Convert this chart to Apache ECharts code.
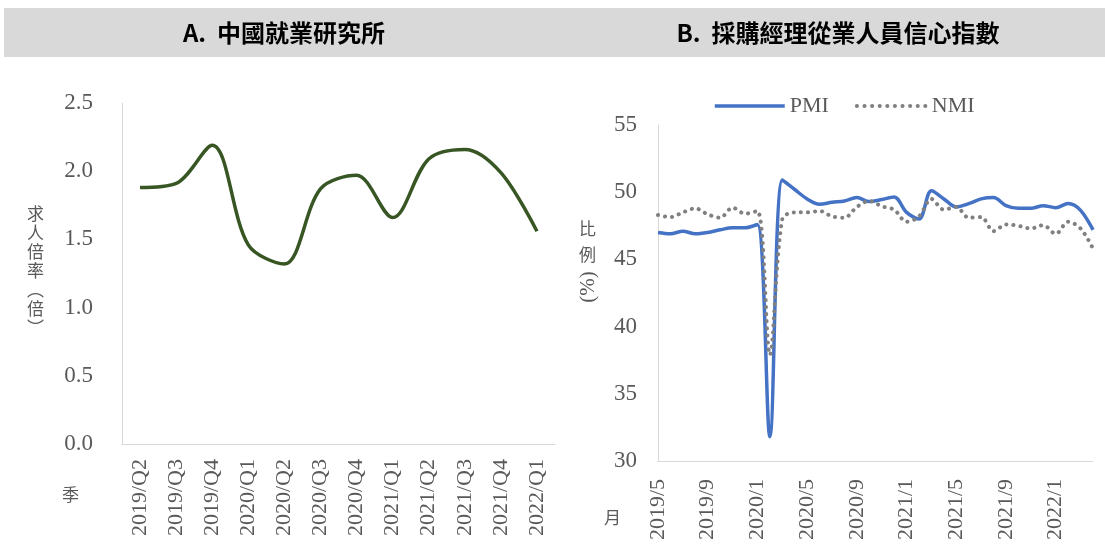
<!DOCTYPE html>
<html><head><meta charset="utf-8">
<script src="https://cdn.jsdelivr.net/npm/echarts@6/dist/echarts.min.js"></script>
<style>html,body{margin:0;padding:0;background:#fff}#c{width:1105px;height:549px}</style>
</head><body><div id="c"></div>
<script>
const quarters = ['2019/Q2','2019/Q3','2019/Q4','2020/Q1','2020/Q2','2020/Q3','2020/Q4','2021/Q1','2021/Q2','2021/Q3','2021/Q4','2022/Q1'];
const jobRatio = [1.88,1.91,2.19,1.46,1.32,1.87,1.97,1.66,2.09,2.16,1.99,1.56];
const months = ['2019/5','2019/6','2019/7','2019/8','2019/9','2019/10','2019/11','2019/12',
 '2020/1','2020/2','2020/3','2020/4','2020/5','2020/6','2020/7','2020/8','2020/9','2020/10','2020/11','2020/12',
 '2021/1','2021/2','2021/3','2021/4','2021/5','2021/6','2021/7','2021/8','2021/9','2021/10','2021/11','2021/12',
 '2022/1','2022/2','2022/3','2022/4'];
const pmi = [47.0,46.9,47.1,46.9,47.0,47.2,47.35,47.35,47.6,31.8,50.9,50.2,49.5,49.1,49.25,49.35,49.6,49.3,49.45,49.65,
 48.5,48.0,50.1,49.5,48.9,49.15,49.5,49.6,49.0,48.8,48.8,49.0,48.85,49.15,48.65,47.2];
const nmi = [48.3,48.15,48.5,48.8,48.35,48.1,48.85,48.4,48.6,37.9,48.0,48.5,48.5,48.6,48.2,48.1,48.9,49.35,48.95,48.7,
 47.8,48.2,49.5,48.7,48.9,48.1,48.15,47.1,47.6,47.5,47.3,47.55,46.9,47.8,47.3,45.8];

const serif = '"Liberation Serif","DejaVu Serif",serif';
const cjk = '"Noto Sans CJK TC","Noto Sans CJK SC",sans-serif';
const txt = '#595959';
const axisLine = {show:true, lineStyle:{color:'#d9d9d9', width:1}};

const chart = echarts.init(document.getElementById('c'), null, {renderer:'canvas'});
function vtext(chars, x, y0, step, size){
  return chars.map((ch,i)=>({type:'text', left:x, top:y0+i*step, style:{text:ch, font:`${size}px ${cjk}`, fill:txt}}));
}
chart.setOption({
  animation:false,
  backgroundColor:'#fff',
  graphic:[
    {type:'rect', shape:{x:4,y:8,width:1101,height:49}, style:{fill:'#d9d9d9'}, z:-1},
    {type:'text', x:284, y:33, style:{text:'A.  中國就業研究所', font:`bold 24px ${cjk}`, fill:'#000', align:'center', verticalAlign:'middle'}},
    {type:'text', x:838, y:33, style:{text:'B.  採購經理從業人員信心指數', font:`bold 24px ${cjk}`, fill:'#000', align:'center', verticalAlign:'middle'}},
    ...vtext(['求','人','倍','率','︵','倍','︶'], 27, 205, 19, 17),
    {type:'text', left:62, top:486, style:{text:'季', font:`17px ${cjk}`, fill:txt}},
    {type:'text', left:604, top:509, style:{text:'月', font:`17px ${cjk}`, fill:txt}},
    {type:'text', left:579, top:220, style:{text:'比', font:`17px ${cjk}`, fill:txt}},
    {type:'text', left:579, top:246, style:{text:'例', font:`17px ${cjk}`, fill:txt}},
    {type:'text', x:588, y:287, rotation:Math.PI/2, style:{text:'(%)', font:`21px ${serif}`, fill:txt, align:'center', verticalAlign:'middle'}}
  ],
  legend:{
    top:90, left:708, itemWidth:70, itemHeight:14, itemGap:26,
    itemStyle:{opacity:0},
    lineStyle:{width:3.5},
    textStyle:{fontFamily:serif, fontSize:22, color:txt},
    data:['PMI',{name:'NMI', lineStyle:{width:4, type:[0.1,7.5], cap:'round'}}]
  },
  grid:[
    {left:122, top:103, width:433, height:341},
    {left:658, top:125, width:435, height:336}
  ],
  xAxis:[
    {gridIndex:0, type:'category', data:quarters, boundaryGap:true,
     axisLine:axisLine, axisTick:{show:false},
     axisLabel:{rotate:90, margin:15, fontFamily:serif, fontSize:22, color:txt, interval:0}},
    {gridIndex:1, type:'category', data:months, boundaryGap:false,
     axisLine:axisLine, axisTick:{show:false},
     axisLabel:{rotate:90, margin:18, fontFamily:serif, fontSize:22, color:txt, interval:3}}
  ],
  yAxis:[
    {gridIndex:0, type:'value', min:0, max:2.5, interval:0.5,
     axisLine:axisLine, axisTick:{show:false}, splitLine:{show:false},
     axisLabel:{margin:29, fontFamily:serif, fontSize:23, color:txt, formatter:v=>v.toFixed(1)}},
    {gridIndex:1, type:'value', min:30, max:55, interval:5,
     axisLine:axisLine, axisTick:{show:false}, splitLine:{show:false},
     axisLabel:{margin:21, fontFamily:serif, fontSize:23, color:txt}}
  ],
  series:[
    {type:'line', xAxisIndex:0, yAxisIndex:0, data:jobRatio, smooth:0.33, symbol:'none',
     lineStyle:{color:'#375623', width:3.5}},
    {name:'PMI', type:'line', xAxisIndex:1, yAxisIndex:1, data:pmi, smooth:0.33, symbol:'none',
     itemStyle:{color:'#4472C4'}, lineStyle:{color:'#4472C4', width:3.5}},
    {name:'NMI', type:'line', xAxisIndex:1, yAxisIndex:1, data:nmi, smooth:0.33, symbol:'none',
     itemStyle:{color:'#808080'}, lineStyle:{color:'#808080', width:4, type:[0.1,7], cap:'round'}}
  ]
});
</script></body></html>
